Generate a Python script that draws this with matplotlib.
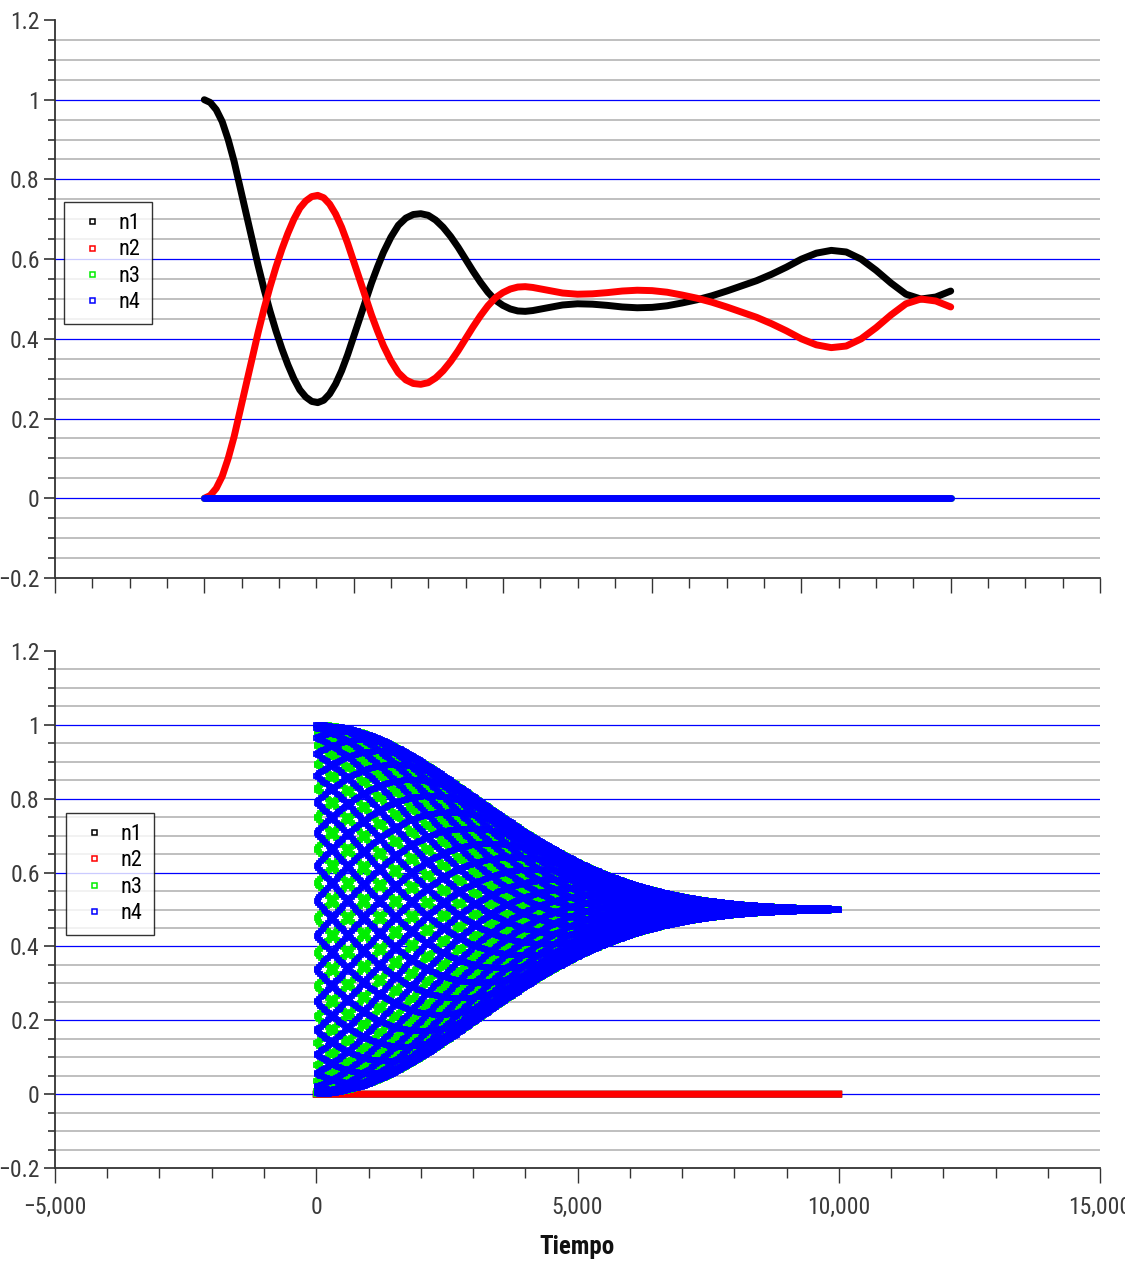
import numpy as np
import matplotlib
matplotlib.use("Agg")
import matplotlib.pyplot as plt
from matplotlib.lines import Line2D
from matplotlib.ticker import MultipleLocator, FuncFormatter, NullFormatter
from matplotlib import font_manager

# ---- fonts ---------------------------------------------------------------
_installed = {f.name for f in font_manager.fontManager.ttflist}
FONT = next((n for n in ["Liberation Sans Narrow", "Roboto Condensed",
                         "Open Sans Condensed", "Liberation Sans"]
             if n in _installed), "DejaVu Sans")
plt.rcParams["font.family"] = [FONT, "DejaVu Sans"]

# ---- data: upper panel (populations vs time) -----------------------------
t_top = [0.00, 0.04, 0.08, 0.12, 0.16, 0.20, 0.24, 0.28, 0.32, 0.36,
         0.40, 0.44, 0.48, 0.52, 0.56, 0.60, 0.64, 0.68, 0.72, 0.76,
         0.80, 0.84, 0.88, 0.92, 0.96, 1.00, 1.04, 1.08, 1.12, 1.16,
         1.20, 1.25, 1.30, 1.35, 1.40, 1.45, 1.50, 1.55, 1.60, 1.65,
         1.70, 1.75, 1.80, 1.85, 1.90, 1.95, 2.00, 2.05, 2.10, 2.15,
         2.20, 2.30, 2.40, 2.50, 2.60, 2.70, 2.80, 2.90, 3.00, 3.10,
         3.20, 3.30, 3.40, 3.50, 3.60, 3.70, 3.80, 3.90, 4.00, 4.10,
         4.20, 4.30, 4.40, 4.50, 4.60, 4.70, 4.80, 4.90, 5.00]
n1_top = [1.000, 0.993, 0.975, 0.945, 0.900, 0.845, 0.780, 0.715, 0.650, 0.585,
          0.525, 0.470, 0.420, 0.375, 0.335, 0.300, 0.272, 0.254, 0.243, 0.240,
          0.246, 0.262, 0.287, 0.320, 0.360, 0.405, 0.450, 0.495, 0.540, 0.580,
          0.617, 0.655, 0.685, 0.703, 0.712, 0.714, 0.710, 0.698, 0.680, 0.657,
          0.630, 0.600, 0.570, 0.542, 0.517, 0.497, 0.484, 0.475, 0.470, 0.469,
          0.471, 0.478, 0.485, 0.488, 0.487, 0.484, 0.480, 0.478, 0.479, 0.483,
          0.490, 0.498, 0.508, 0.520, 0.533, 0.546, 0.562, 0.580, 0.600, 0.615,
          0.622, 0.618, 0.600, 0.572, 0.540, 0.512, 0.500, 0.505, 0.520]
n2_top = [0.000, 0.007, 0.025, 0.055, 0.100, 0.155, 0.220, 0.285, 0.350, 0.415,
          0.475, 0.530, 0.580, 0.625, 0.665, 0.700, 0.728, 0.746, 0.757, 0.760,
          0.754, 0.738, 0.713, 0.680, 0.640, 0.595, 0.550, 0.505, 0.460, 0.420,
          0.383, 0.345, 0.315, 0.297, 0.288, 0.286, 0.290, 0.302, 0.320, 0.343,
          0.370, 0.400, 0.430, 0.458, 0.483, 0.503, 0.516, 0.525, 0.530, 0.531,
          0.529, 0.522, 0.515, 0.512, 0.513, 0.516, 0.520, 0.522, 0.521, 0.517,
          0.510, 0.502, 0.492, 0.480, 0.467, 0.454, 0.438, 0.420, 0.400, 0.385,
          0.378, 0.382, 0.400, 0.428, 0.460, 0.488, 0.500, 0.495, 0.480]
n3_top = [0.0] * len(t_top)
n4_top = [0.0] * len(t_top)

# ---- data: lower panel (levels 3/4 exchange with Gaussian dephasing) -----
t_end_bottom = 10000          # last time step
step_bottom = 1               # sampling step
osc_period = 32.946           # period of the 3<->4 population exchange
t2_dephasing = 4300.0         # 1/e time of the coherence envelope

t_bot = np.arange(0, t_end_bottom + step_bottom, step_bottom)
coherence = np.exp(-(t_bot / t2_dephasing) ** 2)
n4_bot = 0.5 + 0.5 * coherence * np.cos(2 * np.pi * t_bot / osc_period)
n3_bot = 1.0 - n4_bot
n1_bot = np.zeros(t_bot.shape)
n2_bot = np.zeros(t_bot.shape)

labels = ["n1", "n2", "n3", "n4"]
colors = ["#000000", "#ff0000", "#00ee00", "#0000ff"]

# ---- figure --------------------------------------------------------------
W, H = 1125, 1262
fig = plt.figure(figsize=(W / 100, H / 100), dpi=100)
ax_top = fig.add_axes([55 / W, 1 - 578 / H, 1045 / W, 558 / H])
ax_bot = fig.add_axes([55 / W, 1 - 1168 / H, 1045 / W, 517 / H])

TXT = "#3a3a3a"
SPINE = "#333333"


def fmt_y(v, _):
    s = f"{v:.1f}".rstrip("0").rstrip(".")
    if s in ("-0", "−0"):
        s = "0"
    return s.replace("-", "\u2212")


def fmt_x(v, _):
    return f"{int(round(v)):,}".replace("-", "\u2212")


def style(ax):
    ax.set_ylim(-0.2, 1.2)
    for side in ("top", "right"):
        ax.spines[side].set_visible(False)
    for side in ("left", "bottom"):
        ax.spines[side].set_color(SPINE)
        ax.spines[side].set_linewidth(1.3)
    ax.yaxis.set_major_locator(MultipleLocator(0.2))
    ax.yaxis.set_minor_locator(MultipleLocator(0.05))
    ax.yaxis.set_major_formatter(FuncFormatter(fmt_y))
    ax.tick_params(axis="y", which="major", direction="out", length=8,
                   width=1.2, color=SPINE, labelsize=17, labelcolor=TXT, pad=3)
    ax.tick_params(axis="y", which="minor", direction="out", length=5,
                   width=1.2, color=SPINE)
    ax.tick_params(axis="x", which="major", direction="out", length=11,
                   width=1.0, color=SPINE, labelsize=17, labelcolor=TXT, pad=9)
    ax.tick_params(axis="x", which="minor", direction="out", length=7,
                   width=1.0, color=SPINE)
    # horizontal guide lines: grey every 0.05, blue at the labelled levels
    for k in range(-3, 24):
        lvl = k * 0.05
        if k % 4 == 0:
            if 0 <= k <= 20:
                ax.axhline(lvl, color="#0000ff", lw=0.9, zorder=1)
        else:
            ax.axhline(lvl, color="#b4b4b4", lw=1.2, zorder=1)


def add_legend(ax, anchor):
    handles = [Line2D([], [], ls="none", marker="s", ms=3.6, mfc="none",
                      mec=c, mew=1.1) for c in colors]
    leg = ax.legend(handles, labels, loc="upper left", bbox_to_anchor=anchor,
                    fontsize=16, frameon=True, fancybox=False,
                    handlelength=1.5, handletextpad=0.45, labelspacing=0.24,
                    borderpad=0.5, borderaxespad=0.0)
    leg.get_frame().set_edgecolor("#000000")
    leg.get_frame().set_linewidth(1.0)
    leg.set_zorder(10)


# upper panel
style(ax_top)
ax_top.set_xlim(-1, 6)
ax_top.xaxis.set_major_locator(MultipleLocator(1))
ax_top.xaxis.set_minor_locator(MultipleLocator(0.25))
ax_top.xaxis.set_major_formatter(NullFormatter())
for ys, c in zip([n1_top, n2_top, n3_top, n4_top], colors):
    ax_top.plot(t_top, ys, color=c, lw=5.0, solid_capstyle="round",
                solid_joinstyle="round", zorder=3)
add_legend(ax_top, (0.0086, 0.674))

# lower panel
style(ax_bot)
ax_bot.set_xlim(-5000, 15000)
ax_bot.xaxis.set_major_locator(MultipleLocator(5000))
ax_bot.xaxis.set_minor_locator(MultipleLocator(1000))
ax_bot.xaxis.set_major_formatter(FuncFormatter(fmt_x))
ax_bot.plot(t_bot, n1_bot, color=colors[0], lw=5.0, zorder=3)
ax_bot.plot(t_bot, n2_bot, color=colors[1], lw=5.0, zorder=3)
for ys, c in [(n3_bot, colors[2]), (n4_bot, colors[3])]:
    ax_bot.plot(t_bot, ys, ls="none", marker="s", ms=3.5, mfc="none",
                mec=c, mew=1.3, zorder=3)
add_legend(ax_bot, (0.0105, 0.687))
ax_bot.set_xlabel("Tiempo", fontsize=18, fontweight="bold", color="#111111",
                  labelpad=12)

fig.savefig("out.png", dpi=100)
